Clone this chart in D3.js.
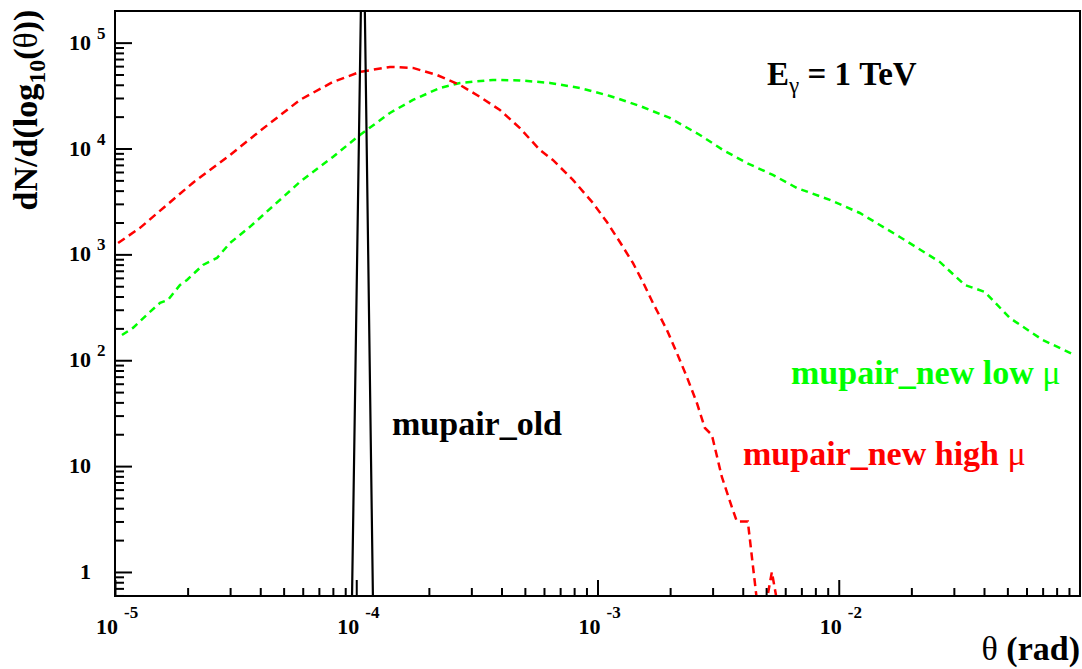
<!DOCTYPE html>
<html>
<head>
<meta charset="utf-8">
<script src="https://cdn.jsdelivr.net/npm/d3@7"></script>
<style>
  body { margin: 0; background: #fff; }
  text { font-family: "Liberation Serif", "Times New Roman", serif; font-weight: bold; }
</style>
</head>
<body>
<svg id="grafico" width="1082" height="669"></svg>
<script>
// theta (rad) and dN/d(log10(theta))
let thetaHigh = [1.03e-5, 1.27e-5, 1.64e-5, 2.10e-5, 3.00e-5, 3.99e-5, 5.84e-5, 8.00e-5,
  1.036e-4, 1.379e-4, 1.718e-4, 2.16e-4, 2.69e-4, 3.26e-4, 3.94e-4, 4.77e-4, 5.77e-4,
  6.53e-4, 7.91e-4, 9.57e-4, 1.094e-3, 1.238e-3, 1.402e-3, 1.542e-3, 1.697e-3, 1.94e-3,
  2.133e-3, 2.347e-3, 2.582e-3, 2.787e-3, 2.979e-3, 3.277e-3, 3.606e-3, 3.781e-3,
  4.199e-3, 4.576e-3, 5.035e-3, 5.281e-3, 5.538e-3];
let nHigh = [1280, 1780, 2930, 4730, 8690, 14650, 28750, 42500,
  52900, 59000, 57700, 49500, 39900, 30700, 23100, 15600, 9690,
  7800, 5050, 3060, 2020, 1310, 830, 549, 348, 193,
  117, 69.5, 39.5, 22.9, 19.7, 7.9, 4.1, 3,
  3, 0, 0, 1, 0];

let thetaLow = [1.069e-5, 1.187e-5, 1.396e-5, 1.537e-5, 1.658e-5, 1.86e-5, 1.988e-5, 2.316e-5,
  2.647e-5, 2.996e-5, 3.626e-5, 5.84e-5, 8.00e-5, 1.036e-4, 1.379e-4, 1.718e-4, 2.223e-4,
  2.691e-4, 3.685e-4, 4.77e-4, 6.35e-4, 8.453e-4, 1.125e-3, 1.498e-3, 1.995e-3, 2.657e-3,
  3.309e-3, 4.158e-3, 5.331e-3, 6.705e-3, 9.185e-3, 1.223e-2, 1.791e-2, 2.624e-2,
  3.331e-2, 4.031e-2, 5.117e-2, 7.014e-2, 9.517e-2];
let nLow = [173, 202, 286, 348, 371, 514, 573, 795,
  925, 1280, 1820, 4830, 8320, 13430, 21670, 28750, 37340,
  41630, 44420, 44000, 41630, 37340, 31370, 25240, 19440, 13430,
  9690, 7300, 5630, 4240, 3270, 2460, 1460, 848,
  514, 442, 251, 155, 112];

let thetaOld = [9.6e-5, 1.066e-4, 1.173e-4];
let nOld = [0, 4.0e6, 0];

let xMajor = [1e-5, 1e-4, 1e-3, 1e-2];
let xExpoentes = ["-5", "-4", "-3", "-2"];
let yMajor = [1, 10, 1e2, 1e3, 1e4, 1e5];
let yExpoentes = ["", "", "2", "3", "4", "5"];

let svg = d3.select("#grafico");
let esq = 115, dir = 1080, topo = 11, base = 596;

let fnX = d3.scaleLog().domain([1e-5, 1e-1]).range([esq, dir]);
let fnY = d3.scaleLog().domain([0.593, 1.99e5]).range([base, topo]);

svg.append("clipPath").attr("id", "quadro")
  .append("rect")
  .attr("x", esq).attr("y", topo)
  .attr("width", dir - esq).attr("height", base - topo);

let plotagem = svg.append("g").attr("clip-path", "url(#quadro)");

function pontos(ts, ns) {
  return ts.map((t, i) => ({ t: t, n: ns[i] }));
}
let linha = d3.line()
  .x((d) => fnX(d.t))
  .y((d) => (d.n > 0 ? fnY(d.n) : base + 4));

plotagem.append("path")
  .datum(pontos(thetaLow, nLow))
  .attr("d", linha)
  .attr("fill", "none")
  .attr("stroke", "#00ff00")
  .attr("stroke-width", 2.5)
  .attr("stroke-dasharray", "7,5");

plotagem.append("path")
  .datum(pontos(thetaHigh, nHigh))
  .attr("d", linha)
  .attr("fill", "none")
  .attr("stroke", "#ff0000")
  .attr("stroke-width", 2.5)
  .attr("stroke-dasharray", "8,5");

plotagem.append("path")
  .datum(pontos(thetaOld, nOld))
  .attr("d", linha)
  .attr("fill", "none")
  .attr("stroke", "#000")
  .attr("stroke-width", 2.2);

// Eixos (ticks para dentro)
let xMenor = fnX.ticks().filter((v) => Math.abs(Math.log10(v) - Math.round(Math.log10(v))) > 1e-9);
let yMenor = fnY.ticks().filter((v) => Math.abs(Math.log10(v) - Math.round(Math.log10(v))) > 1e-9);

svg.append("g")
  .attr("transform", `translate(0,${base})`)
  .call(d3.axisBottom(fnX).tickValues(xMajor).tickSizeInner(-16).tickSizeOuter(0).tickFormat(""))
  .call((g) => g.select(".domain").remove());
svg.append("g")
  .attr("transform", `translate(0,${base})`)
  .call(d3.axisBottom(fnX).tickValues(xMenor).tickSizeInner(-8).tickSizeOuter(0).tickFormat(""))
  .call((g) => g.select(".domain").remove());
svg.append("g")
  .attr("transform", `translate(${esq},0)`)
  .call(d3.axisLeft(fnY).tickValues(yMajor).tickSizeInner(-17).tickSizeOuter(0).tickFormat(""))
  .call((g) => g.select(".domain").remove());
svg.append("g")
  .attr("transform", `translate(${esq},0)`)
  .call(d3.axisLeft(fnY).tickValues(yMenor).tickSizeInner(-9).tickSizeOuter(0).tickFormat(""))
  .call((g) => g.select(".domain").remove());
svg.selectAll(".tick line").attr("stroke", "#000").attr("stroke-width", 2);

svg.append("rect")
  .attr("x", esq).attr("y", topo)
  .attr("width", dir - esq).attr("height", base - topo)
  .attr("fill", "none").attr("stroke", "#000").attr("stroke-width", 2);

// Rótulos do eixo x
svg.selectAll(".rotuloX")
  .data(xMajor)
  .enter()
  .append("text")
  .classed("rotuloX", true)
  .attr("x", (d) => fnX(d) + 3)
  .attr("y", 634)
  .attr("text-anchor", "end")
  .attr("font-size", 22)
  .text("10");
svg.selectAll(".expX")
  .data(xMajor)
  .enter()
  .append("text")
  .classed("expX", true)
  .attr("x", (d) => fnX(d) + 9)
  .attr("y", 618)
  .attr("font-size", 17)
  .text((d, i) => xExpoentes[i]);

// Rótulos do eixo y
svg.selectAll(".rotuloY")
  .data(yMajor)
  .enter()
  .append("text")
  .classed("rotuloY", true)
  .attr("x", 91)
  .attr("y", (d) => fnY(d) + 7)
  .attr("text-anchor", "end")
  .attr("font-size", 22)
  .text((d) => (d === 1 ? "1" : "10"));
svg.selectAll(".expY")
  .data(yMajor)
  .enter()
  .append("text")
  .classed("expY", true)
  .attr("x", 97)
  .attr("y", (d) => fnY(d) - 4)
  .attr("font-size", 17)
  .text((d, i) => yExpoentes[i]);

// Títulos
let tituloY = svg.append("text")
  .attr("transform", "translate(37,110) rotate(-90)")
  .attr("text-anchor", "middle")
  .attr("font-size", 34);
tituloY.append("tspan").text("dN/d(log");
tituloY.append("tspan").attr("font-size", 24).attr("dy", 8).text("10");
tituloY.append("tspan").attr("dy", -8).text("(");
tituloY.append("tspan").attr("font-weight", "normal").text("θ");
tituloY.append("tspan").text("))");

let tituloX = svg.append("text")
  .attr("x", 1080).attr("y", 660)
  .attr("text-anchor", "end")
  .attr("font-size", 34);
tituloX.append("tspan").attr("font-weight", "normal").text("θ");
tituloX.append("tspan").text(" (rad)");

let energia = svg.append("text")
  .attr("x", 767).attr("y", 85)
  .attr("font-size", 33);
energia.append("tspan").text("E");
energia.append("tspan").attr("font-size", 23).attr("font-weight", "normal").attr("dy", 8).text("γ");
energia.append("tspan").attr("dy", -8).text(" = 1 TeV");

svg.append("text")
  .attr("x", 392).attr("y", 435)
  .attr("font-size", 34)
  .attr("fill", "#000")
  .text("mupair_old");

let baixo = svg.append("text")
  .attr("x", 791).attr("y", 384)
  .attr("font-size", 34)
  .attr("fill", "#00ff00");
baixo.append("tspan").text("mupair_new low ");
baixo.append("tspan").attr("font-weight", "normal").text("μ");

let alto = svg.append("text")
  .attr("x", 743).attr("y", 465)
  .attr("font-size", 34)
  .attr("fill", "#ff0000");
alto.append("tspan").text("mupair_new high ");
alto.append("tspan").attr("font-weight", "normal").text("μ");
</script>
</body>
</html>
